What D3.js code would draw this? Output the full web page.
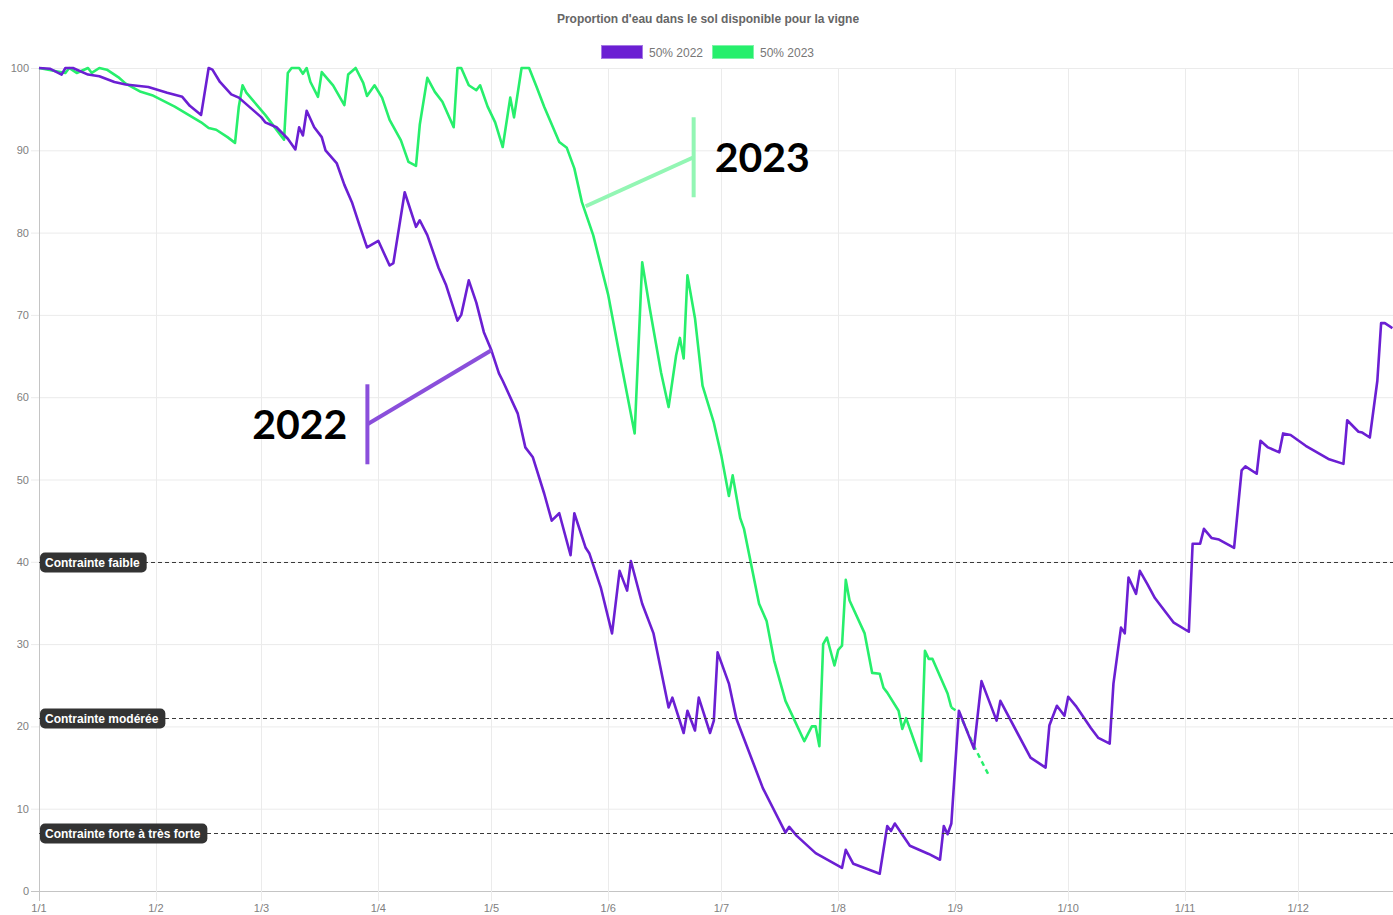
<!DOCTYPE html>
<html>
<head>
<meta charset="utf-8">
<script src="https://cdn.jsdelivr.net/npm/d3@7/dist/d3.min.js"></script>
<style>
	body { margin: 0; background: #fff; }
	svg { display: block; font-family: "Liberation Sans", Arial, sans-serif; }
</style>
</head>
<body>
<svg id="chart" width="1393" height="915"></svg>
<script>
var chartTitle = "Proportion d'eau dans le sol disponible pour la vigne";
var seriesNames = ["50% 2022", "50% 2023"];
var monthTicks = ["01-01", "02-01", "03-01", "04-01", "05-01", "06-01", "07-01", "08-01", "09-01", "10-01", "11-01", "12-01"];
var yTicks = [0, 10, 20, 30, 40, 50, 60, 70, 80, 90, 100];

var dates2022 = ["01-01", "01-04", "01-07", "01-08", "01-10", "01-14", "01-17", "01-21", "01-24", "01-30",
	"02-04", "02-08", "02-10", "02-13", "02-15", "02-16", "02-18", "02-21", "02-23", "03-01",
	"03-02", "03-05", "03-08", "03-10", "03-11", "03-12", "03-13", "03-15", "03-17", "03-18",
	"03-21", "03-23", "03-25", "03-27", "03-29", "04-01", "04-04", "04-05", "04-08", "04-11",
	"04-12", "04-14", "04-17", "04-19", "04-22", "04-23", "04-25", "04-27", "04-29", "05-01",
	"05-03", "05-04", "05-08", "05-10", "05-12", "05-15", "05-17", "05-19", "05-22", "05-23",
	"05-26", "05-27", "05-30", "06-02", "06-04", "06-06", "06-07", "06-10", "06-13", "06-17",
	"06-18", "06-21", "06-22", "06-24", "06-25", "06-28", "06-29", "06-30", "07-03", "07-05",
	"07-07", "07-12", "07-18", "07-19", "07-21", "07-26", "08-02", "08-03", "08-05", "08-12",
	"08-14", "08-15", "08-16", "08-20", "08-25", "08-28", "08-29", "08-30", "08-31", "09-02",
	"09-06", "09-08", "09-12", "09-13", "09-21", "09-25", "09-26", "09-28", "09-30", "10-01",
	"10-03", "10-07", "10-09", "10-12", "10-13", "10-15", "10-16", "10-17", "10-19", "10-20",
	"10-22", "10-24", "10-25", "10-29", "11-02", "11-03", "11-05", "11-06", "11-08", "11-10",
	"11-14", "11-16", "11-17", "11-20", "11-21", "11-23", "11-26", "11-27", "11-29", "12-03",
	"12-06", "12-09", "12-13", "12-14", "12-17", "12-18", "12-20", "12-22", "12-23", "12-24",
	"12-26"];
var values2022 = [100, 99.9, 99.2, 100, 100, 99.2, 99, 98.3, 98, 97.7,
	97, 96.5, 95.4, 94.3, 100, 99.8, 98.3, 96.8, 96.4, 94,
	93.4, 92.8, 91.4, 90.1, 92.8, 91.8, 94.8, 92.8, 91.6, 90,
	88.4, 85.8, 83.7, 80.9, 78.2, 79, 76, 76.3, 84.9, 80.7,
	81.5, 79.7, 75.7, 73.6, 69.3, 70, 74.2, 71.5, 67.9, 65.7,
	62.9, 62, 58, 53.9, 52.7, 48.3, 45, 45.9, 40.8, 45.9,
	41.7, 41, 36.9, 31.3, 38.9, 36.5, 40.1, 34.9, 31.3, 22.3,
	23.5, 19.2, 21.9, 19.5, 23.5, 19.2, 20.7, 29, 25.2, 20.9,
	18.5, 12.5, 7.1, 7.8, 6.7, 4.6, 2.8, 5, 3.3, 2.1,
	7.9, 7.3, 8.2, 5.5, 4.5, 3.8, 7.9, 6.9, 8.2, 21.9,
	17.3, 25.5, 20.7, 23.1, 16.2, 15, 20.1, 22.5, 21.3, 23.6,
	22.5, 19.8, 18.6, 17.9, 25.2, 32, 31.3, 38.1, 36.1, 38.9,
	37.3, 35.6, 35, 32.6, 31.5, 42.2, 42.2, 44, 42.9, 42.7,
	41.7, 51.1, 51.6, 50.7, 54.7, 53.9, 53.3, 55.6, 55.4, 54.1,
	53.3, 52.5, 51.9, 57.2, 55.8, 55.7, 55.1, 62, 69, 69,
	68.4];

var dates2023 = ["01-01", "01-08", "01-09", "01-11", "01-14", "01-15", "01-17", "01-19", "01-22", "01-24",
	"01-28", "01-31", "02-06", "02-09", "02-13", "02-15", "02-17", "02-20", "02-22", "02-23",
	"02-24", "02-25", "03-02", "03-07", "03-08", "03-09", "03-11", "03-12", "03-13", "03-14",
	"03-16", "03-17", "03-20", "03-23", "03-24", "03-26", "03-28", "03-29", "03-31", "04-02",
	"04-04", "04-07", "04-09", "04-11", "04-12", "04-14", "04-16", "04-18", "04-21", "04-22",
	"04-23", "04-25", "04-27", "04-28", "04-30", "05-02", "05-04", "05-06", "05-07", "05-09",
	"05-11", "05-13", "05-15", "05-19", "05-21", "05-23", "05-25", "05-28", "06-01", "06-04",
	"06-08", "06-10", "06-12", "06-15", "06-17", "06-19", "06-20", "06-21", "06-22", "06-24",
	"06-26", "06-29", "07-01", "07-03", "07-04", "07-06", "07-07", "07-11", "07-13", "07-15",
	"07-18", "07-23", "07-25", "07-26", "07-27", "07-28", "07-29", "07-31", "08-01", "08-02",
	"08-03", "08-04", "08-08", "08-10", "08-12", "08-13", "08-14", "08-17", "08-18", "08-19",
	"08-23", "08-24", "08-25", "08-26", "08-30", "08-31"];
var values2023 = [100, 99.4, 100, 99.4, 100, 99.4, 100, 99.8, 98.9, 98.1,
	97.1, 96.7, 95.3, 94.5, 93.4, 92.7, 92.5, 91.6, 90.9, 95.3,
	97.9, 97, 94.3, 91.3, 99.4, 100, 100, 99.3, 100, 98.3,
	96.5, 99.5, 97.9, 95.5, 99.2, 100, 98.2, 96.6, 97.9, 96.4,
	93.7, 91.2, 88.6, 88.1, 93.1, 98.8, 97.1, 95.9, 92.8, 100,
	100, 97.9, 97.3, 97.9, 95.3, 93.4, 90.4, 96.4, 94, 100,
	100, 97.7, 95.3, 91, 90.3, 87.8, 83.7, 79.7, 72.4, 65.1,
	55.6, 76.4, 70.8, 63, 58.8, 65.1, 67.2, 64.7, 74.8, 69.6,
	61.4, 56.9, 52.9, 48, 50.5, 45.3, 44, 34.9, 32.8, 28,
	23.1, 18.2, 20, 20, 17.6, 30, 30.8, 27.4, 29.3, 29.8,
	37.8, 35.3, 31.3, 26.5, 26.4, 24.7, 24.1, 21.9, 19.7, 21,
	15.8, 29.2, 28.2, 28.2, 24, 22.3];
var forecastDates2023 = ["08-31", "09-02", "09-06", "09-10"];
var forecastValues2023 = [22.3, 21.7, 17.6, 14];

var thresholdValues = [40, 21, 7];
var thresholdLabels = ["Contrainte faible", "Contrainte modérée", "Contrainte forte à très forte"];

var annotationLabels = ["2022", "2023"];
var annotationDates = ["05-01", "05-26"];
var annotationValues = [65.7, 83.2];

var colors = { y2022: "#6b1fd3", y2023: "#27ef6c", note2022: "#8a4fdb", note2023: "#93f6b4" };

function Chart(){};

Chart.prototype = {
	parse : d3.timeParse("%Y-%m-%d"),
	toDate : function( md ){
		return this.parse("2022-" + md);
	},
	zip : function( dates, values ){
		var self = this;
		return dates.map(function( d, i ){ return { date: self.toDate(d), value: values[i] }; });
	},
	draw : function(){
		var self = this;
		var svg = d3.select("#chart");
		var left = 39, top = 68, bottom = 891, right = 1393;

		var x = d3.scaleTime()
			.domain([ self.toDate("01-01"), self.toDate("12-31") ])
			.range([ left, left + 364 * 3.77 ]);
		var y = d3.scaleLinear()
			.domain([ 0, 100 ])
			.range([ bottom, top ]);

		// title + legend
		svg.append("text")
			.attr("x", 708).attr("y", 23)
			.attr("text-anchor", "middle")
			.style("font-size", "12px").style("font-weight", "bold")
			.attr("fill", "#666")
			.text(chartTitle);

		var legendX = [601, 712];
		var legendColors = [colors.y2022, colors.y2023];
		seriesNames.forEach(function( name, i ){
			svg.append("rect")
				.attr("x", legendX[i] + 1).attr("y", 46)
				.attr("width", 40).attr("height", 12)
				.attr("fill", legendColors[i])
				.attr("stroke", legendColors[i]).attr("stroke-opacity", 0.6)
				.attr("stroke-width", 2);
			svg.append("text")
				.attr("x", legendX[i] + 48).attr("y", 56.5)
				.style("font-size", "12px")
				.attr("fill", "#777")
				.text(name);
		});

		// grid
		var grid = svg.append("g");
		grid.selectAll(".hgrid").data(yTicks).enter().append("line")
			.attr("x1", left - 8).attr("x2", right)
			.attr("y1", function(d){ return y(d) + 0.5; })
			.attr("y2", function(d){ return y(d) + 0.5; })
			.attr("stroke", function(d){ return d == 0 ? "#c4c4c4" : "#ebebeb"; })
			.attr("stroke-width", 1);
		grid.selectAll(".vgrid").data(monthTicks).enter().append("line")
			.attr("x1", function(d){ return Math.round(x(self.toDate(d))) + 0.5; })
			.attr("x2", function(d){ return Math.round(x(self.toDate(d))) + 0.5; })
			.attr("y1", top).attr("y2", bottom + 10)
			.attr("stroke", function(d, i){ return i == 0 ? "#c4c4c4" : "#ebebeb"; })
			.attr("stroke-width", 1);

		svg.selectAll(".ytick").data(yTicks).enter().append("text")
			.attr("x", left - 10)
			.attr("y", function(d){ return y(d) + 4; })
			.attr("text-anchor", "end")
			.style("font-size", "11px")
			.attr("fill", "#808080")
			.text(function(d){ return d; });

		svg.selectAll(".xtick").data(monthTicks).enter().append("text")
			.attr("x", function(d){ return x(self.toDate(d)); })
			.attr("y", bottom + 21)
			.attr("text-anchor", "middle")
			.style("font-size", "11px")
			.attr("fill", "#808080")
			.text(function(d){ return d3.timeFormat("%-d/%-m")(self.toDate(d)); });

		// series
		var line = d3.line()
			.x(function(d){ return x(d.date); })
			.y(function(d){ return y(d.value); });

		svg.append("path")
			.datum(self.zip(forecastDates2023, forecastValues2023))
			.attr("d", line)
			.attr("fill", "none")
			.attr("stroke", colors.y2023).attr("stroke-width", 2.5)
			.attr("stroke-dasharray", "5,4");
		svg.append("path")
			.datum(self.zip(dates2023, values2023))
			.attr("d", line)
			.attr("fill", "none")
			.attr("stroke", colors.y2023).attr("stroke-width", 2.6)
			.attr("stroke-linejoin", "round");
		svg.append("path")
			.datum(self.zip(dates2022, values2022))
			.attr("d", line)
			.attr("fill", "none")
			.attr("stroke", colors.y2022).attr("stroke-width", 2.6)
			.attr("stroke-linejoin", "round");

		// thresholds
		thresholdValues.forEach(function( v, i ){
			var ty = Math.round(y(v)) + 0.5;
			svg.append("line")
				.attr("x1", left).attr("x2", right)
				.attr("y1", ty).attr("y2", ty)
				.attr("stroke", "#3a3a3a").attr("stroke-width", 1)
				.attr("stroke-dasharray", "4,3");
			var box = svg.append("rect")
				.attr("x", left + 1).attr("y", ty - 10)
				.attr("height", 20).attr("rx", 5)
				.attr("fill", "#333");
			var label = svg.append("text")
				.attr("x", left + 6).attr("y", ty + 4)
				.style("font-size", "12px").style("font-weight", "bold")
				.attr("fill", "#fff")
				.text(thresholdLabels[i]);
			box.attr("width", label.node().getComputedTextLength() + 12);
		});

		// year callouts
		var barOffsets = [[-124, 74], [108, -49]];
		var noteColors = [colors.note2022, colors.note2023];
		annotationLabels.forEach(function( name, i ){
			var px = x(self.toDate(annotationDates[i])), py = y(annotationValues[i]);
			var bx = px + barOffsets[i][0], by = py + barOffsets[i][1];
			svg.append("line")
				.attr("x1", px).attr("y1", py).attr("x2", bx).attr("y2", by)
				.attr("stroke", noteColors[i]).attr("stroke-width", 4);
			svg.append("line")
				.attr("x1", bx).attr("y1", by - 40).attr("x2", bx).attr("y2", by + 40)
				.attr("stroke", noteColors[i]).attr("stroke-width", 4);
			svg.append("text")
				.attr("x", i == 0 ? bx - 20 : bx + 21)
				.attr("y", by + 15)
				.attr("text-anchor", i == 0 ? "end" : "start")
				.style("font-family", "Lato, sans-serif")
				.style("font-size", "41px").style("font-weight", "bold")
				.attr("fill", "#000")
				.text(name);
		});
	}
};

new Chart().draw();
</script>
</body>
</html>
